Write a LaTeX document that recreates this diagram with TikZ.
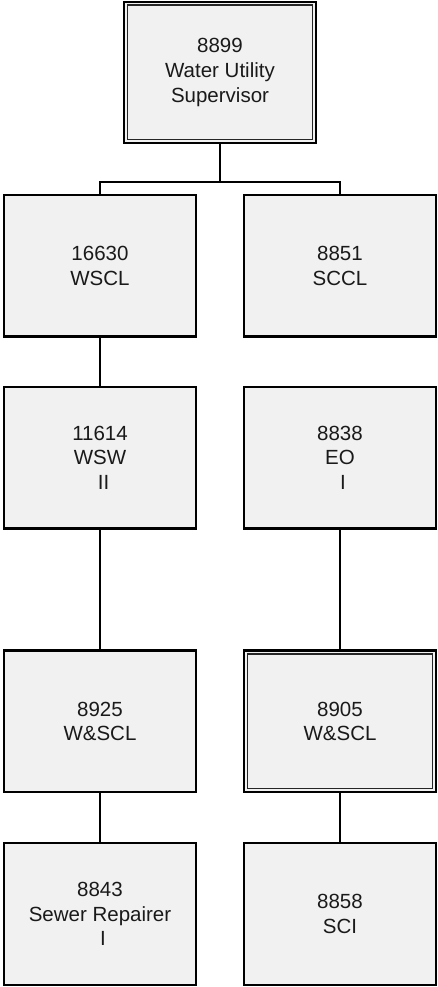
\documentclass[tikz,border=0pt]{standalone}
\usepackage{fontspec}
\setmainfont{Liberation Sans}
\definecolor{boxfill}{HTML}{F1F1F1}
\definecolor{txt}{HTML}{1A1A1A}
\tikzset{
  posbox/.style={draw=black, line width=2.2pt, fill=boxfill, minimum width=192pt,
    minimum height=141.5pt, inner sep=0pt, align=center, text=txt,
    font=\fontsize{20.5}{24.6}\selectfont},
  conn/.style={draw=black, line width=2pt},
  innerframe/.style={draw=black!85, line width=1.3pt}
}
\begin{document}
\begin{tikzpicture}[x=1pt,y=-1pt]
\useasboundingbox (0,0) rectangle (437,987);
\node[posbox] (top) at (220,72.5) {8899\\Water Utility\\Supervisor};
\node[posbox] (wscl) at (100,265.7) {16630\\WSCL};
\node[posbox] (sccl) at (340,265.7) {8851\\SCCL};
\node[posbox] (wsw) at (100,457.8) {11614\\WSW\\\hspace*{7pt}II};
\node[posbox] (eo) at (340,457.8) {8838\\EO\\\hspace*{6pt}I};
\node[posbox] (wscl2) at (100,721.3) {8925\\W\&SCL};
\node[posbox] (wscl3) at (340,721.3) {8905\\W\&SCL};
\node[posbox] (sr) at (100,914) {8843\\Sewer Repairer\\\hspace*{6pt}I};
\node[posbox] (sci) at (340,914) {8858\\SCI};
% inner frames of double-bordered boxes
\draw[innerframe] ([shift={(4.5pt,-4.5pt)}]top.north west) rectangle ([shift={(-4.5pt,4.5pt)}]top.south east);
\draw[innerframe] ([shift={(4.5pt,-4.5pt)}]wscl3.north west) rectangle ([shift={(-4.5pt,4.5pt)}]wscl3.south east);
% connectors
\coordinate (hm) at (220,181.7);
\draw[conn] (top.south) -- (hm);
\draw[conn] (wscl.north) |- (hm) -| (sccl.north);
\draw[conn] (wscl.south) -- (wsw.north);
\draw[conn] (wsw.south) -- (wscl2.north);
\draw[conn] (wscl2.south) -- (sr.north);
\draw[conn] (eo.south) -- (wscl3.north);
\draw[conn] (wscl3.south) -- (sci.north);
\end{tikzpicture}
\end{document}
